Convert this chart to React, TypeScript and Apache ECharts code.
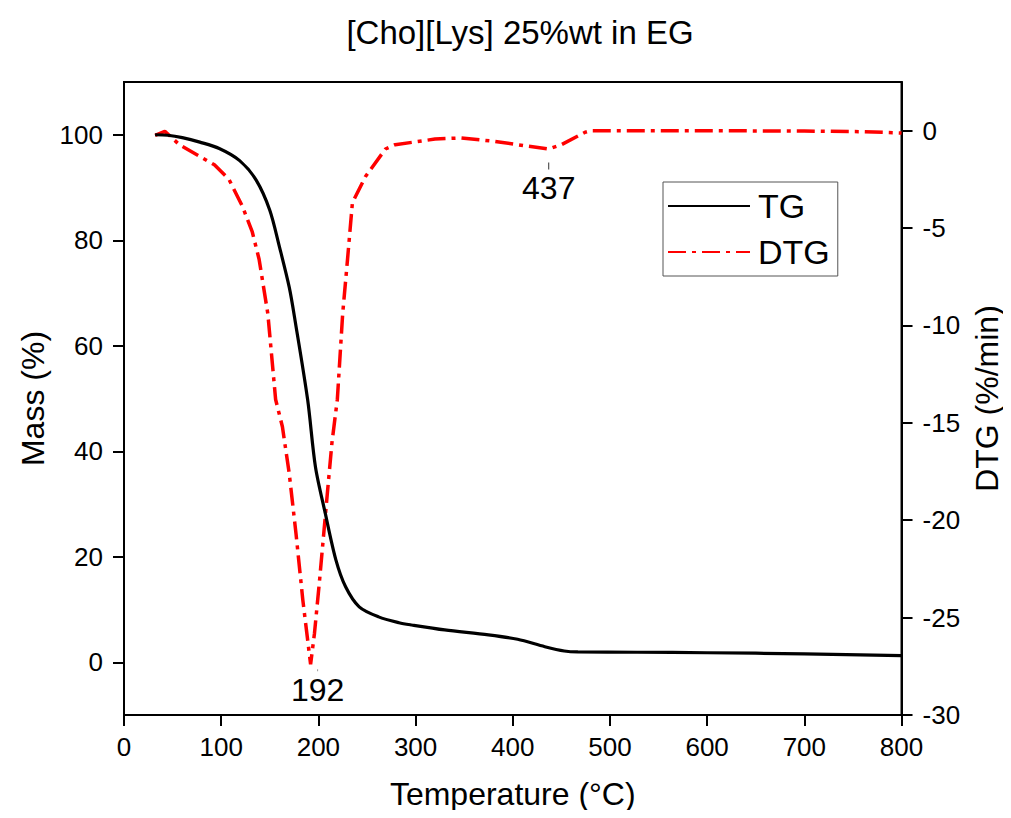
import React, { useEffect, useRef } from "react";
import * as echarts from "echarts";

const titleText = "[Cho][Lys] 25%wt in EG";

const tgTemp = [32, 45, 60, 78, 98, 119, 136, 150, 160, 170, 176, 189, 197, 207, 218, 228, 242, 262, 283, 296, 330, 375, 405, 433, 453, 467, 528, 600, 700, 800];
const tgMass = [100, 99.9, 99.45, 98.6, 97.4, 95.1, 91.4, 85.7, 78.7, 71.1, 64.8, 49.7, 37, 28.3, 19.4, 14.3, 10.5, 8.6, 7.5, 7.07, 6.13, 5.2, 4.35, 2.95, 2.14, 1.95, 1.9, 1.8, 1.6, 1.25];

const dtgTemp = [32, 42, 57, 78, 93, 108, 122, 132, 139, 148, 156, 163, 170, 177, 184, 192, 196, 201, 208, 214, 219.5, 225, 230, 235, 248.5, 269, 279, 320, 347, 382, 412, 437, 450, 474, 480, 600, 700, 760, 800];
const dtgRate = [-0.24, -0.03, -0.72, -1.32, -1.75, -2.5, -3.9, -5.2, -6.6, -9.4, -13.8, -15.2, -17.6, -20.7, -24.1, -27.4, -25.8, -23.2, -19.3, -16, -13.8, -9.4, -6.6, -3.7, -2.35, -0.94, -0.72, -0.43, -0.37, -0.55, -0.77, -0.94, -0.72, -0.09, 0, 0, -0.02, -0.05, -0.12];

const xTicks = [0, 100, 200, 300, 400, 500, 600, 700, 800];
const massTicks = [0, 20, 40, 60, 80, 100];
const dtgTicks = [-30, -25, -20, -15, -10, -5, 0];

const peaks = [
  { temp: 192, rate: -27.4, label: "192" },
  { temp: 437, rate: -0.94, label: "437" },
];

const FONT = "Liberation Sans, Arial, sans-serif";

export default function App() {
  const ref = useRef<HTMLDivElement>(null);
  useEffect(() => {
    if (!ref.current) return;
    const chart = echarts.init(ref.current, undefined, { renderer: "svg" });
    const tgData = tgTemp.map((t, i) => [t, tgMass[i]]);
    const dtgData = dtgTemp.map((t, i) => [t, dtgRate[i]]);
    const axisLine = { show: true, onZero: false, lineStyle: { color: "#000", width: 2 } };
    const axisTick = { show: true, inside: false, length: 11, lineStyle: { color: "#000", width: 2 } };
    const tickLabel = { color: "#000", fontSize: 26, fontFamily: FONT };
    const nameStyle = { color: "#000", fontSize: 32, fontFamily: FONT };
    chart.setOption({
      animation: false,
      backgroundColor: "#fff",
      title: {
        text: titleText,
        left: 515,
        textAlign: "center",
        top: 11,
        textStyle: { color: "#000", fontSize: 33, fontWeight: "normal", fontFamily: FONT },
      },
      grid: {
        left: 124,
        right: 104,
        top: 82,
        bottom: 103,
        show: true,
        borderColor: "#000",
        borderWidth: 2,
        backgroundColor: "transparent",
      },
      legend: {
        orient: "vertical",
        left: 663,
        top: 182,
        padding: [6, 8, 6, 4],
        itemGap: 10,
        itemWidth: 82,
        itemHeight: 14,
        borderColor: "#555",
        borderWidth: 1,
        borderRadius: 0,
        backgroundColor: "#fff",
        itemStyle: { opacity: 0 },
        textStyle: { color: "#000", fontSize: 34, fontFamily: FONT, lineHeight: 36, padding: [0, 0, 0, 3] },
        data: ["TG", "DTG"],
      },
      xAxis: {
        type: "value",
        min: 0,
        max: 800,
        interval: 100,
        name: "Temperature (°C)",
        nameLocation: "middle",
        nameGap: 63,
        nameTextStyle: nameStyle,
        axisLine,
        axisTick,
        axisLabel: { ...tickLabel, margin: 19, customValues: xTicks },
        splitLine: { show: false },
      },
      yAxis: [
        {
          type: "value",
          position: "left",
          min: -10,
          max: 110,
          name: "Mass (%)",
          nameLocation: "middle",
          nameGap: 73,
          nameRotate: 90,
          nameTextStyle: nameStyle,
          axisLine,
          axisTick: { ...axisTick, customValues: massTicks },
          axisLabel: { ...tickLabel, margin: 21, customValues: massTicks },
          splitLine: { show: false },
        },
        {
          type: "value",
          position: "right",
          min: -30,
          max: 2.5,
          name: "DTG (%/min)",
          nameLocation: "middle",
          nameGap: 68,
          nameRotate: 90,
          nameTextStyle: nameStyle,
          axisLine,
          axisTick: { ...axisTick, customValues: dtgTicks },
          axisLabel: { ...tickLabel, margin: 21, customValues: dtgTicks },
          splitLine: { show: false },
        },
      ],
      series: [
        {
          name: "TG",
          type: "line",
          yAxisIndex: 0,
          data: tgData,
          smooth: 0.3,
          showSymbol: false,
          symbol: "none",
          z: 3,
          lineStyle: { color: "#000", width: 3.2 },
          itemStyle: { color: "#000" },
        },
        {
          name: "DTG",
          type: "line",
          yAxisIndex: 1,
          data: dtgData,
          showSymbol: false,
          symbol: "none",
          z: 2,
          lineStyle: { color: "#ff0000", width: 3.5, type: [18, 6, 4, 6] },
          itemStyle: { color: "#ff0000" },
          markPoint: {
            silent: true,
            data: [
              {
                coord: [peaks[0].temp, peaks[0].rate],
                symbol: "rect",
                symbolSize: [1, 2],
                symbolOffset: [7, 6],
                itemStyle: { color: "#999" },
                label: {
                  show: true,
                  formatter: peaks[0].label,
                  position: "bottom",
                  distance: 3,
                  color: "#000",
                  fontSize: 32,
                  fontFamily: FONT,
                },
              },
              {
                coord: [peaks[1].temp, peaks[1].rate],
                symbol: "rect",
                symbolSize: [1, 7],
                symbolOffset: [0, 17],
                itemStyle: { color: "#333" },
                label: {
                  show: true,
                  formatter: peaks[1].label,
                  position: "bottom",
                  distance: 2,
                  color: "#000",
                  fontSize: 32,
                  fontFamily: FONT,
                },
              },
            ],
          },
        },
      ],
    });
    return () => chart.dispose();
  }, []);
  return <div ref={ref} style={{ width: 1011, height: 818, margin: -8 }} />;
}
